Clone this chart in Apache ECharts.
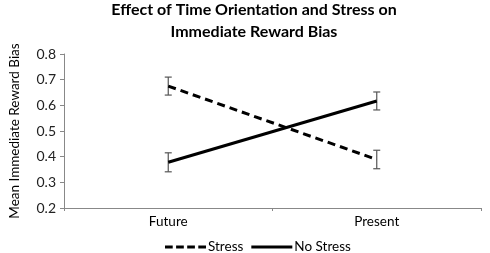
<!DOCTYPE html>
<html>
<head>
<meta charset="utf-8">
<script src="https://cdn.jsdelivr.net/npm/echarts@6/dist/echarts.min.js"></script>
<style>
  html, body { margin: 0; padding: 0; background: #fff; }
  #chart { width: 490px; height: 253px; }
</style>
</head>
<body>
<div id="chart"></div>
<script>
// data
var categories = ['Future', 'Present'];
var stressMean = [0.675, 0.389];
var stressErr = [0.035, 0.036];
var noStressMean = [0.378, 0.617];
var noStressErr = [0.037, 0.035];

var FONT = 'Lato';

// error bar drawing: vertical line with little caps
function errorBars(means, errs) {
  var data = means.map(function (m, i) { return [i, m - errs[i], m + errs[i]]; });
  return {
    type: 'custom',
    data: data,
    z: 1,
    silent: true,
    renderItem: function (params, api) {
      var lo = api.coord([api.value(0), api.value(1)]);
      var hi = api.coord([api.value(0), api.value(2)]);
      var w = 3.5;
      var st = { stroke: '#555', lineWidth: 1.2 };
      return {
        type: 'group',
        children: [
          { type: 'line', shape: { x1: hi[0], y1: hi[1], x2: lo[0], y2: lo[1] }, style: st },
          { type: 'line', shape: { x1: hi[0] - w, y1: hi[1], x2: hi[0] + w, y2: hi[1] }, style: st },
          { type: 'line', shape: { x1: lo[0] - w, y1: lo[1], x2: lo[0] + w, y2: lo[1] }, style: st }
        ]
      };
    }
  };
}

var dashIcon = 'path://M0,0h8v3h-8z M11.5,0h8v3h-8z M23,0h8v3h-8z M34.5,0h8v3h-8z';

var chart = echarts.init(document.getElementById('chart'));
chart.setOption({
  animation: false,
  title: {
    text: 'Effect of Time Orientation and Stress on\nImmediate Reward Bias',
    left: 254,
    top: -1,
    padding: 0,
    textAlign: 'center',
    textStyle: { fontFamily: FONT, fontSize: 16, fontWeight: 'bold', color: '#000', lineHeight: 22 }
  },
  grid: { left: 52, right: 9, top: 54, bottom: 45 },
  legend: {
    top: 235,
    left: 160,
    itemWidth: 41,
    itemHeight: 3,
    itemGap: 8,
    textStyle: { fontFamily: FONT, fontSize: 13.5, color: '#000', padding: [0, 0, 0, -3] },
    data: [
      { name: 'Stress', icon: dashIcon },
      { name: 'No Stress', icon: 'rect' }
    ]
  },
  xAxis: {
    type: 'category',
    data: categories,
    boundaryGap: true,
    axisLine: { lineStyle: { color: '#888', width: 1 } },
    axisTick: { show: true, length: 3, lineStyle: { color: '#888' } },
    axisLabel: { fontFamily: FONT, fontSize: 13.5, color: '#000', margin: 7 }
  },
  yAxis: {
    type: 'value',
    min: 0.2,
    max: 0.8,
    interval: 0.1,
    name: 'Mean Immediate Reward Bias',
    nameLocation: 'middle',
    nameGap: 42,
    nameTextStyle: { fontFamily: FONT, fontSize: 13.5, color: '#000' },
    splitLine: { show: false },
    axisLine: { show: true, lineStyle: { color: '#888', width: 1 } },
    axisTick: { show: true, length: 4, lineStyle: { color: '#888' } },
    axisLabel: {
      fontFamily: FONT, fontSize: 14, color: '#222', margin: 8,
      formatter: function (v) { return v.toFixed(1); }
    }
  },
  series: [
    {
      name: 'Stress',
      type: 'line',
      data: stressMean,
      symbol: 'none',
      z: 3,
      lineStyle: { color: '#000', width: 3, type: [8, 5] },
      itemStyle: { color: '#000' }
    },
    {
      name: 'No Stress',
      type: 'line',
      data: noStressMean,
      symbol: 'none',
      z: 3,
      lineStyle: { color: '#000', width: 3, type: 'solid' },
      itemStyle: { color: '#000' }
    },
    errorBars(stressMean, stressErr),
    errorBars(noStressMean, noStressErr)
  ]
});
</script>
</body>
</html>
